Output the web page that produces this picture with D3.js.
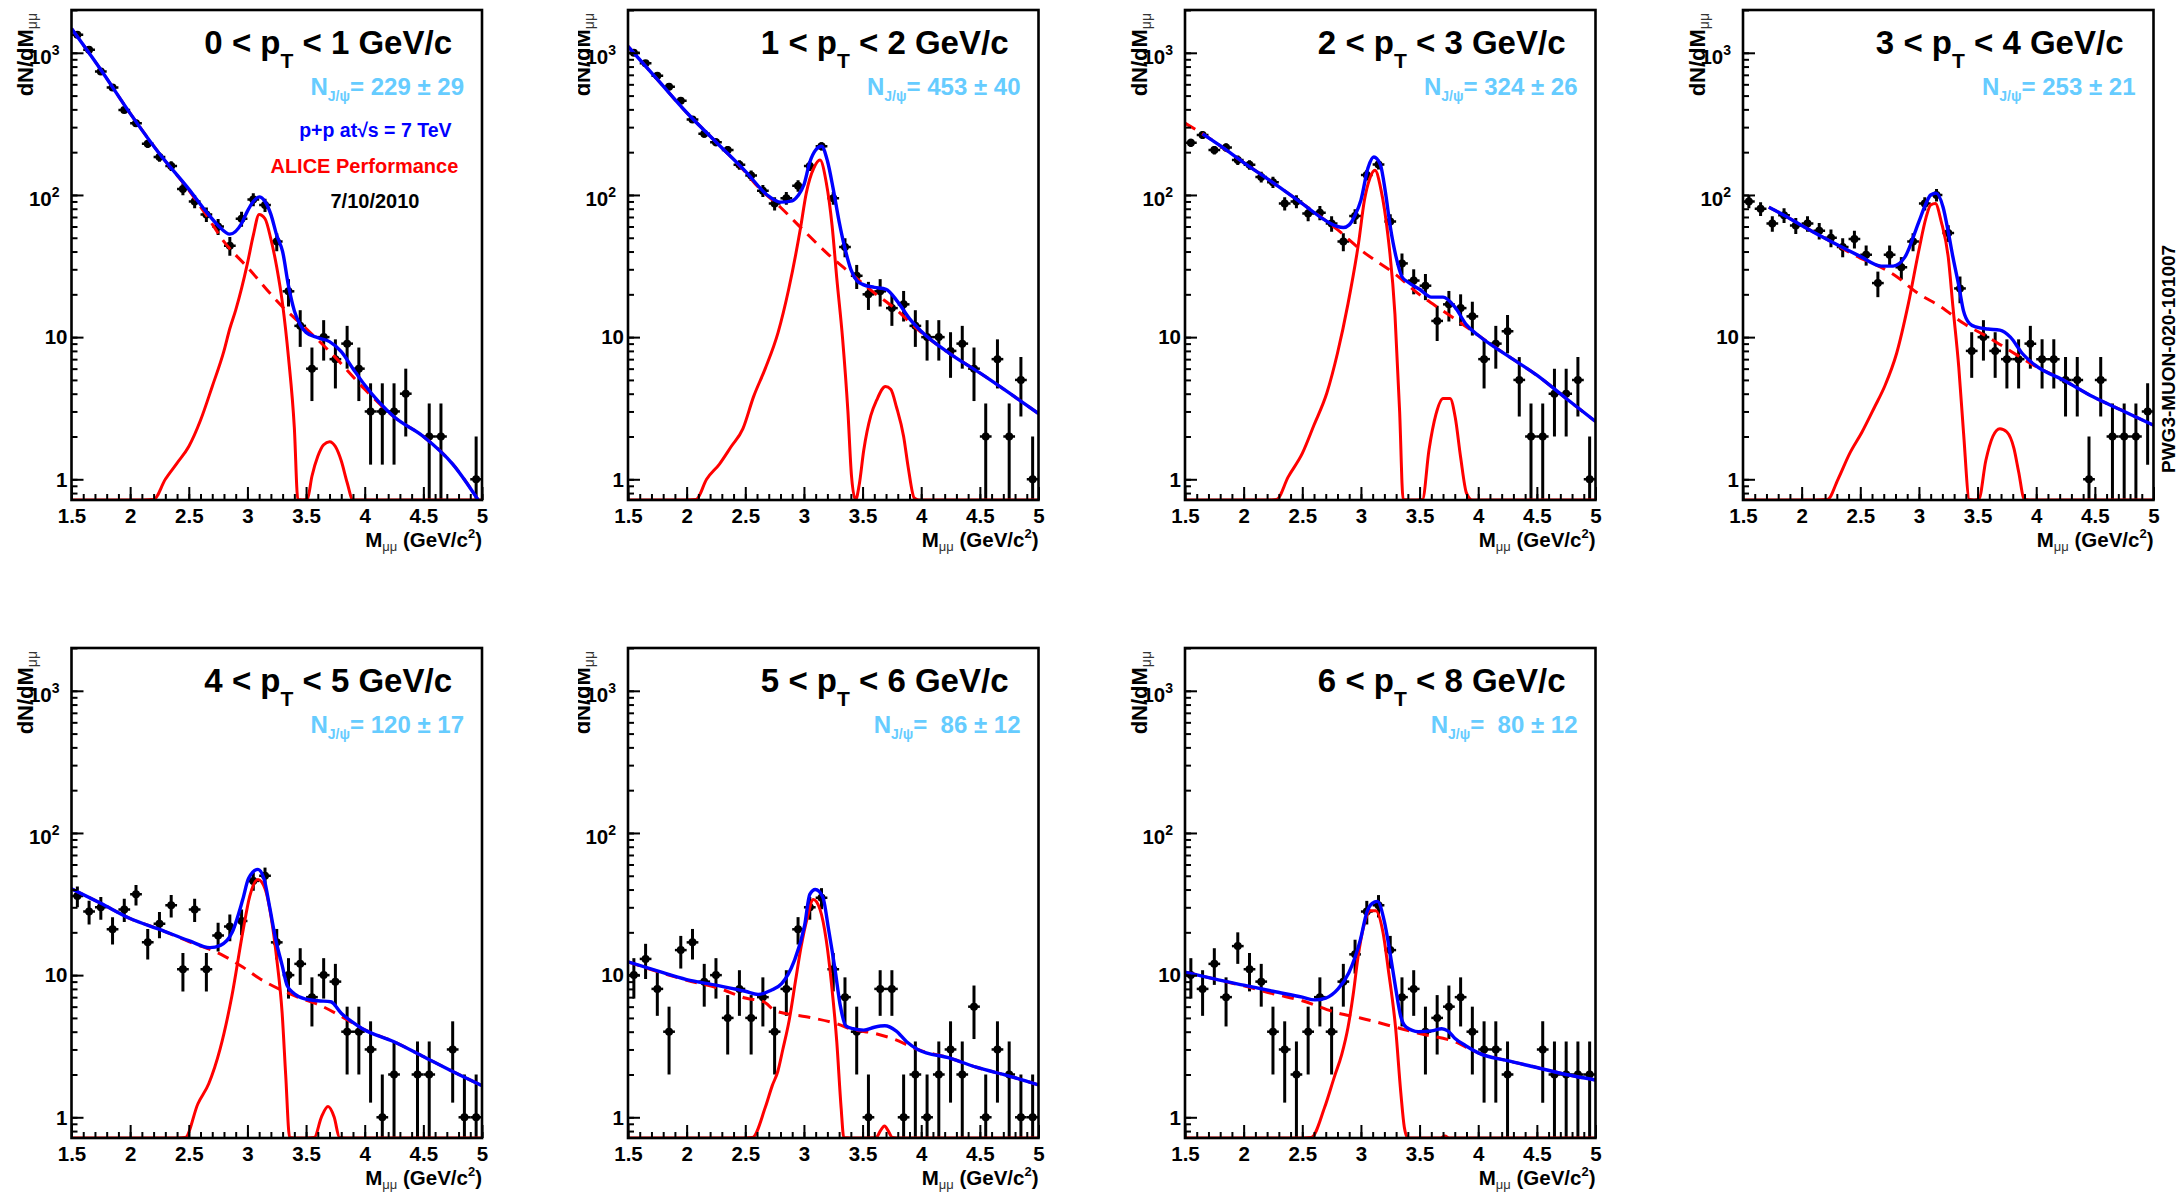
<!DOCTYPE html>
<html>
<head>
<meta charset="utf-8">
<script src="https://cdn.jsdelivr.net/npm/d3@7"></script>
<style>
body { margin: 0; background: #fff; }
svg { font-family: "Liberation Sans", Arial, Helvetica, sans-serif; font-weight: bold; }
text { white-space: pre; }
</style>
</head>
<body>
<svg id="chart" width="2179" height="1192"></svg>
<script>
// bin centres of the dimuon mass histograms (GeV/c^2)
var binCenters = [1.55,1.65,1.75,1.85,1.95,2.05,2.15,2.25,2.35,2.45,2.55,2.65,2.75,2.85,2.95,3.05,3.15,3.25,3.35,3.45,
                  3.55,3.65,3.75,3.85,3.95,4.05,4.15,4.25,4.35,4.45,4.55,4.65,4.75,4.85,4.95]

// counts per bin
var counts1 = [1340,1050,740,571,396,320,229,185,160,110,90,73,60,44,68,93,85,47,21,12,6,10,7,9,6,3,3,3,4,0,2,2,0,0,1]
var counts2 = [1000,845,690,577,460,339,269,235,207,163,137,107,87,95,116,160,220,95,43,27,20,21,16,17,12,10,10,8,9,6,2,7,2,5,1]
var counts3 = [233,264,207,216,176,163,134,123,87,90,74,75,63,47,71,138,164,65,33,25,23,13,17,16,14,7,9,11,5,2,2,4,4,5,1]
var counts4 = [90,80,63,72,61,63,56,50,43,49,38,24,38,31,47,87,100,54,22,8,10,8,7,7,9,7,7,5,5,1,5,2,2,2,3]
var counts5 = [36,28,30,21,29,37,17,23,31,11,29,11,19,22,24,46,50,17,10,12,7,10,9,4,4,3,1,2,0,2,2,0,3,1,1]
var counts6 = [10,13,8,4,15,17,9,10,5,8,5,7,4,8,21,30,35,11,7,4,1,8,8,1,2,1,2,3,2,6,1,3,2,1,1]
var counts7 = [10,8,12,7,16,11,9,4,3,2,4,7,4,9,14,28,31,15,7,8,4,5,6,7,4,3,3,2,0,0,3,2,2,2,2]

// total fit (blue)
var total1 = [[1.5,1480],[1.75,760],[2.0,375],[2.25,195],[2.5,110],[2.65,76],[2.75,61],[2.85,53],[2.95,63],[3.0,77],[3.05,90],[3.1,97],[3.15,90],[3.2,73],[3.25,52],[3.3,40],[3.35,23],[3.4,15.3],[3.45,12.2],[3.5,10.8],[3.6,9.9],[3.7,9.3],[3.8,7.9],[3.9,6.0],[4.0,4.6],[4.25,2.75],[4.5,2.0],[4.75,1.28],[5.0,0.65]]
var total2 = [[1.5,1110],[1.75,650],[2.0,380],[2.25,236],[2.5,147],[2.7,98],[2.8,89],[2.9,91],[2.95,99],[3.0,118],[3.05,170],[3.1,207],[3.15,220],[3.2,174],[3.25,110],[3.3,65],[3.35,42],[3.4,30],[3.45,25],[3.5,23.5],[3.6,22.4],[3.7,21.7],[3.8,17.7],[3.9,13.5],[4.0,11],[4.25,7.6],[4.5,5.6],[4.75,4.05],[5.0,2.9]]
var total3 = [[1.65,269],[1.8,222],[2.0,169],[2.25,122],[2.5,87],[2.7,66],[2.8,60],[2.85,59],[2.9,61.6],[2.95,72],[3.0,92],[3.06,155],[3.11,185],[3.166,163],[3.21,103],[3.25,60],[3.3,36.5],[3.35,26.6],[3.4,24.4],[3.5,21.7],[3.6,19.1],[3.7,19.1],[3.8,16.3],[3.9,12.2],[4.0,10.3],[4.25,7.4],[4.5,5.4],[4.75,3.7],[5.0,2.55]]
var total4 = [[1.72,82],[1.85,72],[2.0,61],[2.25,47],[2.5,37],[2.68,31.6],[2.78,31.6],[2.88,36.5],[3.0,65],[3.06,87],[3.1,100],[3.147,103],[3.206,82],[3.25,55],[3.29,36.5],[3.34,23],[3.38,15.3],[3.43,12.5],[3.485,11.8],[3.59,11.4],[3.69,11.2],[3.78,10],[3.88,7.7],[3.985,6.4],[4.25,4.9],[4.485,3.8],[4.75,3.0],[5.0,2.4]]
var total5 = [[1.5,40.5],[1.75,32],[2.0,25],[2.25,21],[2.5,17.5],[2.68,15.6],[2.77,16.2],[2.87,20],[2.96,34],[3.01,48],[3.09,55.4],[3.14,48],[3.19,30],[3.24,18],[3.296,11.7],[3.34,8.4],[3.4,7.4],[3.49,6.8],[3.6,6.6],[3.71,6.5],[3.8,5.4],[3.89,4.7],[3.98,4.2],[4.25,3.4],[4.49,2.7],[4.75,2.1],[5.0,1.67]]
var total6 = [[1.5,12.4],[1.75,10.7],[2.0,9.3],[2.25,8.5],[2.5,7.7],[2.61,7.3],[2.716,7.8],[2.81,8.7],[2.914,12.4],[3.006,22.4],[3.05,37],[3.097,40],[3.16,35.6],[3.21,21],[3.265,11],[3.31,6.1],[3.357,4.4],[3.418,4.2],[3.51,4.1],[3.6,4.3],[3.69,4.4],[3.785,4.05],[3.876,3.4],[3.97,3.0],[4.25,2.6],[4.47,2.25],[4.75,1.95],[5.0,1.69]]
var total7 = [[1.5,10.5],[1.75,9.4],[2.0,8.5],[2.25,7.7],[2.5,7.0],[2.607,6.7],[2.7,6.9],[2.805,8.0],[2.897,10.4],[2.995,17.7],[3.05,27.6],[3.096,32],[3.14,33],[3.2,23.8],[3.25,14],[3.295,8.2],[3.34,5.1],[3.386,4.3],[3.49,4.0],[3.6,4.05],[3.69,4.2],[3.74,4.05],[3.8,3.6],[3.89,3.2],[4.0,2.84],[4.25,2.5],[4.49,2.25],[4.75,2.0],[5.0,1.83]]

// background (red dashed)
var bg1 = [[1.5,1480],[1.75,760],[2.0,375],[2.25,195],[2.5,108],[2.65,72],[2.8,47],[3.0,31],[3.3,16.3],[3.5,11.5],[3.75,7.2],[4.0,4.3],[4.25,2.75],[4.5,2.0],[4.75,1.28],[5.0,0.65]]
var bg2 = [[1.5,1110],[1.75,650],[2.0,380],[2.25,236],[2.5,145],[2.6,116],[2.8,82],[3.0,56],[3.2,38.7],[3.4,28],[3.6,20.5],[3.8,15.3],[3.9,12.8],[4.0,10.8],[4.25,7.6],[4.5,5.6],[4.75,4.05],[5.0,2.9]]
var bg3 = [[1.5,320],[1.65,269],[2.0,169],[2.25,122],[2.5,87],[2.8,57],[3.0,41],[3.3,27.4],[3.5,19.9],[3.7,15.3],[3.9,11.8],[4.0,10.3],[4.25,7.4],[4.5,5.4],[4.75,3.7],[5.0,2.55]]
var bg4 = [[1.72,82],[1.85,72],[2.0,61],[2.25,47],[2.5,36],[2.59,33.5],[2.79,27.4],[2.985,20.5],[3.19,16.3],[3.38,12.5],[3.59,10],[3.79,7.9],[3.985,6.3],[4.25,4.9],[4.485,3.8],[4.75,3.0],[5.0,2.4]]
var bg5 = [[1.5,40.5],[1.75,32],[2.0,25],[2.25,21],[2.5,17.2],[2.775,14],[2.96,11.4],[3.1,9.5],[3.296,7.8],[3.45,6.9],[3.586,6.3],[3.86,4.8],[3.98,4.2],[4.25,3.4],[4.49,2.7],[4.75,2.1],[5.0,1.67]]
var bg6 = [[1.5,12.4],[1.75,10.6],[2.0,9.2],[2.29,8.0],[2.5,6.9],[2.655,6.5],[2.76,5.6],[3.02,5.1],[3.296,4.5],[3.39,4.2],[3.6,3.9],[3.785,3.5],[3.89,3.2],[3.97,3.0],[4.25,2.6],[4.47,2.25],[4.75,1.95],[5.0,1.69]]
var bg7 = [[1.5,10.5],[1.75,9.4],[2.0,8.4],[2.25,7.4],[2.5,6.6],[2.805,5.4],[2.995,5.0],[3.295,4.3],[3.49,3.9],[3.8,3.4],[4.0,2.84],[4.25,2.5],[4.49,2.25],[4.75,2.0],[5.0,1.83]]

// J/psi + psi(2S) signal (red solid)
var sig1 = [[1.5,0.01],[2.1,0.5],[2.2,0.72],[2.3,1.0],[2.4,1.3],[2.5,1.7],[2.6,2.6],[2.7,4.5],[2.8,8],[2.85,11.5],[2.9,15.5],[2.95,22],[3.0,33],[3.05,52],[3.1,73],[3.15,68],[3.2,49],[3.25,31],[3.3,17],[3.35,7.2],[3.4,2.3],[3.43,0.72],[3.47,0.4],[3.51,0.72],[3.55,1.05],[3.6,1.45],[3.65,1.75],[3.7,1.84],[3.75,1.7],[3.8,1.35],[3.85,0.95],[3.9,0.6],[5.0,0.01]]
var sig2 = [[1.5,0.01],[1.98,0.5],[2.08,0.72],[2.17,1.0],[2.28,1.28],[2.38,1.7],[2.48,2.27],[2.57,3.8],[2.67,6],[2.78,10.8],[2.87,21.7],[2.97,58],[3.02,103],[3.085,155],[3.137,176],[3.19,123],[3.24,61],[3.28,26],[3.33,9.7],[3.375,3],[3.405,1.07],[3.44,0.68],[3.47,0.9],[3.51,1.6],[3.57,2.8],[3.62,3.6],[3.695,4.5],[3.74,4.3],[3.79,3.2],[3.85,2.0],[3.89,1.2],[3.94,0.74],[3.98,0.5],[5.0,0.01]]
var sig3 = [[1.5,0.01],[2.18,0.5],[2.28,0.72],[2.38,1.04],[2.5,1.52],[2.6,2.41],[2.71,4.06],[2.8,7.7],[2.89,17.2],[2.98,46],[3.03,92],[3.075,130],[3.12,149],[3.17,110],[3.23,52],[3.29,14.5],[3.33,3.0],[3.36,0.72],[3.42,0.3],[3.48,0.3],[3.525,0.72],[3.58,1.6],[3.64,2.87],[3.7,3.7],[3.76,3.7],[3.805,2.7],[3.85,1.43],[3.9,0.8],[3.95,0.5],[5.0,0.01]]
var sig4 = [[1.5,0.01],[2.12,0.5],[2.22,0.72],[2.31,1.0],[2.41,1.52],[2.515,2.15],[2.62,3.2],[2.71,4.55],[2.81,7.7],[2.91,17.2],[3.0,41],[3.06,69],[3.1,85],[3.14,87],[3.19,65],[3.25,36.5],[3.29,16.3],[3.34,6.1],[3.38,2.15],[3.43,0.72],[3.47,0.45],[3.51,0.72],[3.57,1.35],[3.63,2.0],[3.69,2.27],[3.75,2.15],[3.81,1.65],[3.85,1.13],[3.9,0.72],[3.94,0.5],[5.0,0.01]]
var sig5 = [[1.5,0.01],[2.4,0.5],[2.47,0.72],[2.577,1.24],[2.67,1.72],[2.766,3.0],[2.867,7.1],[2.96,20],[3.02,36],[3.09,47],[3.15,40.5],[3.204,25],[3.25,13],[3.296,5.4],[3.326,2.0],[3.36,0.72],[3.4,0.4],[3.5,0.3],[3.57,0.72],[3.63,1.0],[3.687,1.19],[3.74,1.0],[3.785,0.72],[3.83,0.5],[5.0,0.01]]
var sig6 = [[1.5,0.01],[2.48,0.5],[2.56,0.72],[2.67,1.17],[2.73,1.67],[2.777,2.1],[2.82,3.0],[2.874,4.8],[2.93,9.3],[2.975,15.7],[3.027,25],[3.08,34],[3.137,29],[3.19,17.7],[3.235,8.7],[3.28,3.4],[3.317,1.17],[3.34,0.72],[3.4,0.4],[3.55,0.4],[3.617,0.72],[3.65,0.8],[3.687,0.87],[3.72,0.8],[3.754,0.72],[3.8,0.5],[5.0,0.01]]
var sig7 = [[1.5,0.01],[2.5,0.5],[2.576,0.72],[2.69,1.17],[2.775,1.94],[2.836,2.76],[2.89,4.3],[2.934,7.3],[2.974,13.2],[3.026,22.5],[3.08,28.4],[3.126,28.4],[3.188,20],[3.233,11],[3.295,4.3],[3.34,1.49],[3.37,0.85],[3.4,0.6],[3.55,0.4],[3.68,0.65],[3.716,0.74],[3.75,0.65],[3.85,0.4],[5.0,0.01]]

var ptLow = ["0","1","2","3","4","5","6"]
var ptHigh = ["1","2","3","4","5","6","8"]
var yieldText = ["229 \u00b1 29","453 \u00b1 40","324 \u00b1 26","253 \u00b1 21","120 \u00b1 17"," 86 \u00b1 12"," 80 \u00b1 12"]

var xTickValues = [1.5,2,2.5,3,3.5,4,4.5,5]
var xTickLabels = ["1.5","2","2.5","3","3.5","4","4.5","5"]
var yTickValues = [1,10,100,1000]
var yTickExp = ["","","2","3"]

var frame = {width: 410.5, height: 490}
var colX = [71.5, 628, 1185, 1743]
var rowY = [10, 648]
var yMin = 0.715, yMax = 2000

var svg = d3.select("#chart")

var panels = [
    {counts: counts1, total: total1, bg: bg1, sig: sig1, col: 0, row: 0},
    {counts: counts2, total: total2, bg: bg2, sig: sig2, col: 1, row: 0},
    {counts: counts3, total: total3, bg: bg3, sig: sig3, col: 2, row: 0},
    {counts: counts4, total: total4, bg: bg4, sig: sig4, col: 3, row: 0},
    {counts: counts5, total: total5, bg: bg5, sig: sig5, col: 0, row: 1},
    {counts: counts6, total: total6, bg: bg6, sig: sig6, col: 1, row: 1},
    {counts: counts7, total: total7, bg: bg7, sig: sig7, col: 2, row: 1}
]

var drawPanel = function(p, i)
{
    var g = svg.append("g")
        .attr("transform", "translate(" + colX[p.col] + "," + rowY[p.row] + ")")

    var xScale = d3.scaleLinear().domain([1.5, 5]).range([0, frame.width])
    var yScale = d3.scaleLog().domain([yMin, yMax]).range([frame.height, 0])

    g.append("clipPath").attr("id", "clip" + i)
        .append("rect").attr("width", frame.width).attr("height", frame.height)

    var plot = g.append("g").attr("clip-path", "url(#clip" + i + ")")

    // histogram points with poisson errors
    var pts = binCenters.map(function(c, k) { return {x: c, n: p.counts[k]} })
        .filter(function(d) { return d.n > 0 })

    plot.selectAll("line.ey").data(pts).enter().append("line")
        .attr("x1", function(d) { return xScale(d.x) })
        .attr("x2", function(d) { return xScale(d.x) })
        .attr("y1", function(d) { return yScale(d.n + Math.sqrt(d.n)) })
        .attr("y2", function(d) { return yScale(Math.max(d.n - Math.sqrt(d.n), yMin * 0.5)) })
        .attr("stroke", "black").attr("stroke-width", 3)

    plot.selectAll("line.ex").data(pts).enter().append("line")
        .attr("x1", function(d) { return xScale(d.x - 0.05) })
        .attr("x2", function(d) { return xScale(d.x + 0.05) })
        .attr("y1", function(d) { return yScale(d.n) })
        .attr("y2", function(d) { return yScale(d.n) })
        .attr("stroke", "black").attr("stroke-width", 2.5)

    plot.selectAll("circle").data(pts).enter().append("circle")
        .attr("cx", function(d) { return xScale(d.x) })
        .attr("cy", function(d) { return yScale(d.n) })
        .attr("r", 4)
        .attr("fill", "black")

    var line = d3.line()
        .x(function(d) { return xScale(d[0]) })
        .y(function(d) { return yScale(d[1]) })
        .curve(d3.curveMonotoneX)

    var clampedLine = d3.line()
        .x(function(d) { return xScale(d[0]) })
        .y(function(d) { return yScale(Math.max(d[1], yMin)) })
        .curve(d3.curveMonotoneX)

    plot.append("path").attr("d", line(p.bg))
        .attr("fill", "none").attr("stroke", "#ff0000").attr("stroke-width", 3)
        .attr("stroke-dasharray", "12,8")

    plot.append("path").attr("d", clampedLine(p.sig))
        .attr("fill", "none").attr("stroke", "#ff0000").attr("stroke-width", 3)

    plot.append("path").attr("d", line(p.total))
        .attr("fill", "none").attr("stroke", "#0000ff").attr("stroke-width", 3.4)

    // axes: ticks point inwards
    var xMinor = d3.axisBottom(xScale).tickValues(xScale.ticks(35)).tickSize(-6).tickFormat("")
    var xMajor = d3.axisBottom(xScale).tickValues(xTickValues).tickSize(-13).tickPadding(8)
        .tickFormat(function(d, k) { return xTickLabels[k] })
    var yMinor = d3.axisLeft(yScale).tickValues(yScale.ticks()).tickSize(-6).tickFormat("")
    var yMajor = d3.axisLeft(yScale).tickValues(yTickValues).tickSize(-12).tickFormat("")

    var axes = g.append("g")
    axes.append("g").attr("transform", "translate(0," + frame.height + ")").call(xMinor)
    axes.append("g").attr("transform", "translate(0," + frame.height + ")").call(xMajor)
    axes.append("g").call(yMinor)
    axes.append("g").call(yMajor)
    axes.selectAll(".domain").remove()
    axes.selectAll(".tick line").attr("stroke", "black").attr("stroke-width", 2)
    axes.selectAll(".tick text")
        .attr("font-family", "'Liberation Sans', Arial, sans-serif")
        .attr("font-weight", "bold").attr("font-size", 20.5).attr("fill", "black")

    // log axis labels
    yTickValues.forEach(function(v, k) {
        var t = g.append("text")
            .attr("font-size", 20.5).attr("text-anchor", "end")
        if (yTickExp[k] === "") {
            t.attr("x", -4).attr("y", yScale(v) + 7.3).text(v)
        } else {
            t.attr("x", -12).attr("y", yScale(v) + 11.5).text("10")
            t.append("tspan").attr("font-size", 14).attr("dy", -9).text(yTickExp[k])
        }
    })

    g.append("rect")
        .attr("width", frame.width).attr("height", frame.height)
        .attr("fill", "none").attr("stroke", "black").attr("stroke-width", 2.6)

    // y axis title
    var yt = g.append("g")
    if (p.col === 1) {
        g.append("clipPath").attr("id", "yclip" + i)
            .append("rect").attr("x", -50).attr("y", -10).attr("width", 60).attr("height", 130)
        yt.attr("clip-path", "url(#yclip" + i + ")")
    }
    var ytText = yt.append("text")
        .attr("transform", "translate(-38.5,3) rotate(-90)")
        .attr("text-anchor", "end").attr("font-size", 22)
        .text("dN/dM")
    ytText.append("tspan").attr("font-size", 14).attr("font-weight", "normal").attr("fill", "#333")
        .attr("dy", 4).text("\u03bc\u03bc")

    // x axis title
    var xt = g.append("text")
        .attr("x", frame.width).attr("y", frame.height + 46.5)
        .attr("text-anchor", "end").attr("font-size", 20.5)
        .text("M")
    xt.append("tspan").attr("font-size", 13).attr("font-weight", "normal").attr("fill", "#333")
        .attr("dy", 4).text("\u03bc\u03bc")
    xt.append("tspan").attr("dy", -4).text(" (GeV/c")
    xt.append("tspan").attr("font-size", 13).attr("dy", -9).text("2")
    xt.append("tspan").attr("dy", 9).text(")")

    // pt bin title
    var title = g.append("text")
        .attr("x", frame.width - 30).attr("y", 43.6)
        .attr("text-anchor", "end").attr("font-size", 33)
        .text(ptLow[i] + " < p")
    title.append("tspan").attr("font-size", 21).attr("dy", 14).text("T")
    title.append("tspan").attr("dy", -14).text(" < " + ptHigh[i] + " GeV/c")

    // J/psi yield
    var yl = g.append("text")
        .attr("x", frame.width - 18).attr("y", 85)
        .attr("text-anchor", "end").attr("font-size", 24).attr("fill", "#66ccff")
        .text("N")
    yl.append("tspan").attr("font-size", 14).attr("dy", 6).text("J/\u03c8")
    yl.append("tspan").attr("dy", -6).text("= " + yieldText[i])

    if (i === 0) {
        g.append("text").attr("x", 380).attr("y", 127.3)
            .attr("text-anchor", "end").attr("font-size", 19.5).attr("fill", "#0000ff")
            .text("p+p at\u221as = 7 TeV")
        g.append("text").attr("x", 386.8).attr("y", 162.7)
            .attr("text-anchor", "end").attr("font-size", 20).attr("fill", "#ff0000")
            .text("ALICE Performance")
        g.append("text").attr("x", 303.5).attr("y", 198.3)
            .attr("text-anchor", "middle").attr("font-size", 20).attr("fill", "black")
            .text("7/10/2010")
    }
}

panels.forEach(drawPanel)

svg.append("text")
    .attr("transform", "translate(2175,473) rotate(-90)")
    .attr("font-size", 19)
    .text("PWG3-MUON-020-101007")
</script>
</body>
</html>
